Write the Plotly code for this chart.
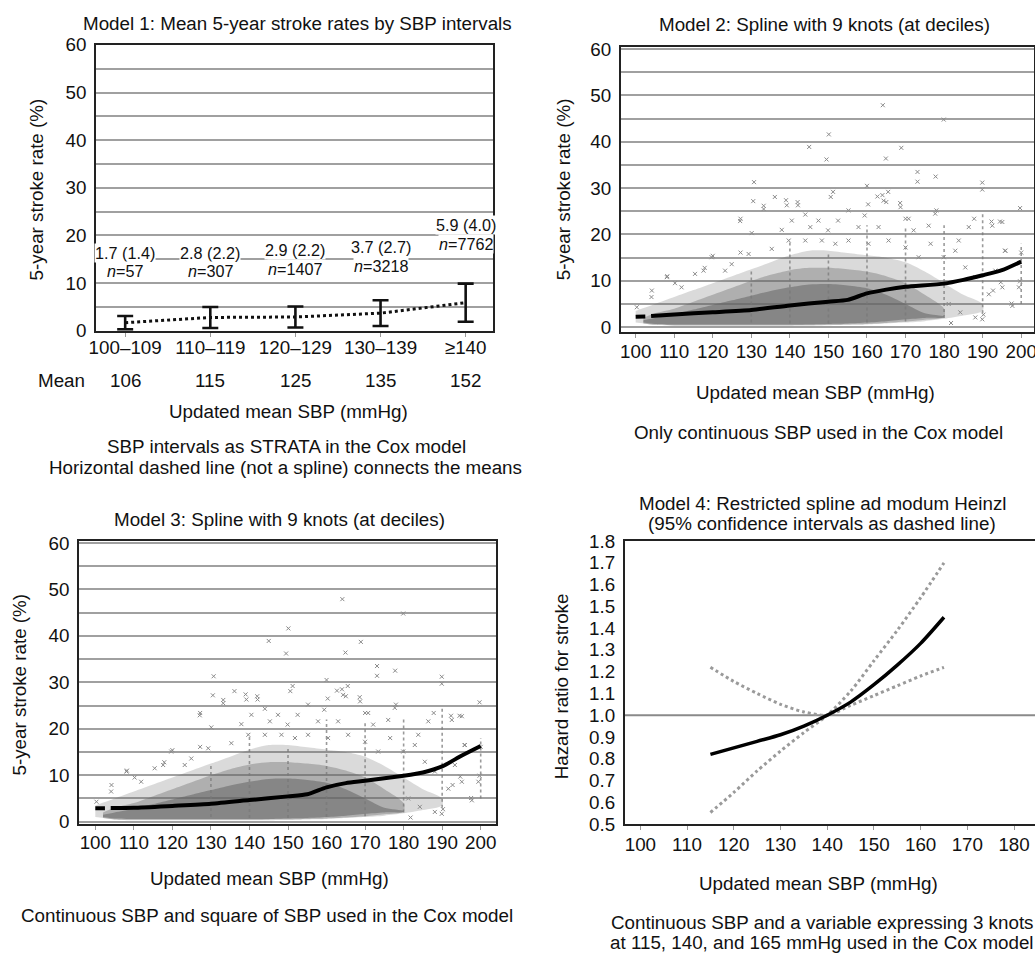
import plotly.graph_objects as go

W, H = 1035, 953            # target picture size
DIV_W, DIV_H = 1050, 975    # plot div size (slightly larger than the visible window)
SX, SY = 0.989, 0.982       # window-to-page scale of the captured area
FONT = "Liberation Sans, Arial, sans-serif"
FS = 18.8

# ---------------- Model 1: interval means ----------------
interval_labels = ["100–109", "110–119", "120–129", "130–139", "≥140"]
interval_means_sbp = [106, 115, 125, 135, 152]
stroke_mean = [1.7, 2.8, 2.9, 3.7, 5.9]
stroke_sd = [1.4, 2.2, 2.2, 2.7, 4.0]
group_n = [57, 307, 1407, 3218, 7762]
label_height = [14.4, 14.4, 15.0, 15.6, 20.2]   # y position of the two-line value labels

# ---------------- Scatter cloud (shared by models 2 and 3) ----------------
halo_x = [100, 105, 110, 115, 120, 125, 130, 135, 140, 145, 150, 155, 160, 165, 170, 175, 180, 185, 190]
halo_hi = [3.5, 5.0, 6.5, 8.0, 9.5, 11.0, 12.5, 14.0, 15.5, 16.5, 16.5, 16.0, 15.5, 15.0, 14.0, 12.0, 9.5, 7.0, 5.0]
halo_lo = [1.0, 0.5, 0.3, 0.3, 0.3, 0.3, 0.3, 0.3, 0.3, 0.3, 0.4, 0.5, 0.6, 0.8, 1.0, 1.3, 1.8, 2.5, 3.5]

cloud_x = [102, 105, 110, 115, 120, 125, 130, 135, 140, 145, 150, 155, 160, 165, 170, 175, 180]
mid_hi = [2.0, 3.0, 4.0, 5.5, 7.0, 8.5, 10.0, 11.3, 12.3, 12.8, 12.8, 12.5, 12.0, 11.0, 9.5, 7.0, 4.0]
mid_lo = [0.8, 0.5, 0.4, 0.4, 0.4, 0.4, 0.4, 0.4, 0.4, 0.5, 0.5, 0.6, 0.7, 0.9, 1.2, 1.6, 2.2]
core_hi = [1.5, 2.0, 2.8, 3.8, 4.8, 5.8, 6.8, 7.8, 8.6, 9.2, 9.3, 9.0, 8.4, 7.0, 5.0, 3.0, 2.3]
core_lo = [1.0, 0.7, 0.6, 0.6, 0.6, 0.6, 0.6, 0.6, 0.6, 0.6, 0.7, 0.8, 1.0, 1.3, 1.7, 2.0, 2.1]

# stacked readings at rounded SBP values
stack_x = [130, 140, 150, 160, 170, 180, 190, 200]
stack_lo = [1.0, 0.8, 0.8, 1.0, 1.2, 2.0, 3.0, 5.0]
stack_hi = [12.0, 19.0, 16.0, 22.0, 21.5, 22.0, 24.5, 18.0]

# individual patients away from the dense cloud
pt_x = [164.1, 179.9, 150.1, 145.0, 168.9, 149.5, 164.9, 173.1, 173.1, 177.8, 130.7, 189.9, 189.9, 160.0,
        130.5, 136.1, 151.2, 150.6, 165.5, 164.0, 162.7, 168.6, 199.7, 133.2, 127.2, 139.0, 142.0, 160.3,
        165.0, 178.0, 170.0, 187.8, 192.3, 194.5, 120.0, 127.2, 117.9, 108.2, 110.2, 104.1, 200.0, 195.8,
        199.7, 197.5, 194.7, 192.7, 181.8, 190.2,
        127.1, 130.1, 133.2, 137.9, 139.2, 140.5, 142.1, 144.0, 145.3, 147.4, 149.9, 152.5, 155.2, 157.8,
        159.4, 163.0, 164.3, 168.7, 170.8, 172.1, 176.0, 177.7, 183.8, 186.4, 192.5, 195.1, 195.9, 193.3,
        188.1, 185.5, 182.9, 179.9, 176.5, 173.4, 181.2, 184.2, 188.1, 189.9, 197.7, 199.4, 195.1, 191.6,
        115.4, 119.7, 108.1, 104.2, 100.3, 111.9, 117.6, 123.2, 124.9, 129.3, 135.3, 139.7, 144.0, 148.3,
        151.8, 155.2, 160.4, 165.6, 170.0]
pt_y = [47.9, 44.8, 41.6, 38.9, 38.7, 36.2, 36.4, 33.5, 31.4, 32.5, 31.3, 31.2, 29.7, 30.5,
        27.2, 28.1, 29.2, 28.1, 29.2, 28.5, 28.2, 26.8, 25.7, 26.2, 23.4, 27.4, 27.0, 26.5,
        27.0, 25.2, 23.4, 23.4, 22.8, 22.8, 15.4, 16.1, 12.8, 11.0, 9.5, 6.5, 16.1, 16.5,
        9.9, 5.1, 9.7, 7.9, 0.9, 2.7,
        22.9, 20.3, 25.5, 21.0, 26.3, 23.0, 26.3, 24.3, 21.6, 23.0, 20.9, 23.0, 25.2, 21.6,
        24.1, 21.6, 27.3, 25.9, 23.4, 20.9, 21.9, 24.5, 18.7, 21.6, 21.9, 22.7, 16.5, 12.2,
        10.8, 12.9, 16.5, 15.1, 18.0, 15.1, 5.0, 3.2, 2.1, 1.7, 4.6, 8.6, 8.6, 7.1,
        11.5, 15.1, 10.8, 7.9, 4.3, 8.6, 12.2, 12.2, 13.6, 15.8, 16.9, 18.7, 18.7, 18.7,
        18.0, 18.7, 18.0, 18.7, 17.2]

# fitted 5-year stroke rates
fit_x = [100, 102.5, None, 104, 110, 120, 130, 140, 150, 155, 160, 165, 170, 180, 185, 190, 195, 200]
fit_model2 = [2.25, 2.3, None, 2.4, 2.75, 3.2, 3.7, 4.7, 5.5, 5.9, 7.3, 8.1, 8.7, 9.4, 10.2, 11.2, 12.3, 14.15]
fit_model3 = [2.9, 2.9, None, 2.95, 3.0, 3.4, 3.85, 4.65, 5.45, 5.9, 7.4, 8.3, 8.8, 9.9, 10.6, 11.9, 14.2, 16.3]

# ---------------- Model 4: restricted spline hazard ratio ----------------
hr_x = [115, 120, 125, 130, 135, 140, 145, 150, 155, 160, 165]
hr = [0.82, 0.85, 0.88, 0.91, 0.95, 1.0, 1.06, 1.14, 1.23, 1.33, 1.45]
ci_upper = [1.22, 1.155, 1.10, 1.05, 1.015, 1.0, 1.11, 1.25, 1.39, 1.54, 1.70]
ci_lower = [0.553, 0.645, 0.744, 0.835, 0.92, 1.0, 1.045, 1.09, 1.135, 1.18, 1.22]


def px_x(p):
    return min(1.0, (p / SX) / DIV_W)


def px_y(p):
    return max(0.0, 1 - (p / SY) / DIV_H)


fig = go.Figure()

# ---- panel 1
fig.add_trace(go.Scatter(x=list(range(5)), y=stroke_mean, mode="lines",
                         line=dict(color="#111", width=3, dash="dot"),
                         xaxis="x", yaxis="y", hoverinfo="skip"))
fig.add_trace(go.Scatter(x=list(range(5)), y=stroke_mean, mode="markers",
                         marker=dict(size=1, color="rgba(0,0,0,0)"),
                         error_y=dict(type="data", array=stroke_sd, color="#111", thickness=2.6, width=8),
                         xaxis="x", yaxis="y"))


def cloud(xa, ya):
    layers = [
        (halo_x, halo_lo, halo_hi, "rgba(100,100,100,0.24)"),
        (cloud_x, mid_lo, mid_hi, "rgba(100,100,100,0.36)"),
        (cloud_x, core_lo, core_hi, "rgba(100,100,100,0.55)"),
    ]
    for xs, lo, hi, col in layers:
        fig.add_trace(go.Scatter(x=xs + xs[::-1], y=hi + lo[::-1], fill="toself",
                                 fillcolor=col, line=dict(width=0, shape="spline", smoothing=0.8),
                                 mode="lines", xaxis=xa, yaxis=ya, hoverinfo="skip"))
    sx, sy = [], []
    for x, lo, hi in zip(stack_x, stack_lo, stack_hi):
        sx += [x, x, None]
        sy += [lo, hi, None]
    fig.add_trace(go.Scatter(x=sx, y=sy, mode="lines",
                             line=dict(color="rgba(120,120,120,0.75)", width=1.6, dash="dot"),
                             xaxis=xa, yaxis=ya, hoverinfo="skip"))
    fig.add_trace(go.Scatter(x=pt_x, y=pt_y, mode="markers",
                             marker=dict(symbol="x-thin", size=4, line=dict(width=1, color="#8a8a8a")),
                             xaxis=xa, yaxis=ya, hoverinfo="skip"))


cloud("x2", "y2")
fig.add_trace(go.Scatter(x=fit_x, y=fit_model2, mode="lines", line=dict(color="black", width=4, shape="spline", smoothing=0.6),
                         xaxis="x2", yaxis="y2", connectgaps=False))
cloud("x3", "y3")
fig.add_trace(go.Scatter(x=fit_x, y=fit_model3, mode="lines", line=dict(color="black", width=4, shape="spline", smoothing=0.6),
                         xaxis="x3", yaxis="y3", connectgaps=False))

# ---- panel 4: the two confidence bands cross at the 140 mmHg reference
k = hr_x.index(140)
band_a = ci_lower[:k] + ci_upper[k:]
band_b = ci_upper[:k] + ci_lower[k:]
for band in (band_a, band_b):
    fig.add_trace(go.Scatter(x=hr_x, y=band, mode="lines",
                             line=dict(color="#9a9a9a", width=3, dash="dot", shape="spline", smoothing=0.8),
                             xaxis="x4", yaxis="y4"))
fig.add_trace(go.Scatter(x=hr_x, y=hr, mode="lines",
                         line=dict(color="black", width=3.5, shape="spline", smoothing=0.8),
                         xaxis="x4", yaxis="y4"))

frame = dict(showline=True, mirror=True, linecolor="#222", linewidth=2, zeroline=False,
             tickfont=dict(family=FONT, size=FS, color="#111"))
grid_y = dict(showgrid=True, gridcolor="#a0a0a0", gridwidth=1.5, dtick=10, tick0=0,
              minor=dict(dtick=5, tick0=0, showgrid=True, gridcolor="#a0a0a0", gridwidth=1.5),
              ticks="", ticklabelstandoff=4)
xt = dict(showgrid=False, ticks="outside", ticklen=4, tickcolor="#999", tickwidth=1)

layout = dict(
    autosize=True, margin=dict(l=0, r=0, t=0, b=0),
    paper_bgcolor="white", plot_bgcolor="white", showlegend=False,
    font=dict(family=FONT, size=FS, color="#111"),
    xaxis=dict(domain=[px_x(97), px_x(493)], range=[-0.341, 4.318], anchor="y",
               tickvals=list(range(5)), ticktext=interval_labels, ticklabelstandoff=-5, **xt, **frame),
    yaxis=dict(domain=[px_y(330), px_y(43)], range=[0, 60], anchor="x", **grid_y, **frame),
    xaxis2=dict(domain=[px_x(621), px_x(1033)], range=[96.18, 203.2], anchor="y2",
                tickvals=list(range(100, 201, 10)), ticklabelstandoff=-2, **xt, **frame),
    yaxis2=dict(domain=[px_y(331), px_y(45)], range=[-1, 60.5], anchor="x2", **grid_y, **frame),
    xaxis3=dict(domain=[px_x(80), px_x(496)], range=[95.8, 203.9], anchor="y3",
                tickvals=list(range(100, 201, 10)), ticklabelstandoff=-4, **xt, **frame),
    yaxis3=dict(domain=[px_y(825), px_y(541)], range=[-0.5, 60.4], anchor="x3", **grid_y, **frame),
    xaxis4=dict(domain=[px_x(625), px_x(1035)], range=[96.7, 184.6], anchor="y4",
                tickvals=list(range(100, 181, 10)), ticklabelstandoff=-2, **xt, **frame),
    yaxis4=dict(domain=[px_y(825), px_y(541)], range=[0.5, 1.8], anchor="x4",
                tickvals=[round(0.5 + 0.1 * i, 1) for i in range(14)], tickformat=".1f",
                showgrid=False, ticks="", ticklabelstandoff=4, **frame),
)
fig.update_layout(**layout)

# reference line at HR = 1
fig.add_shape(type="line", xref="x4 domain", yref="y4", x0=0, x1=1, y0=1, y1=1,
              line=dict(color="#8a8a8a", width=2), layer="below")

ann = []


def text(x, y, s, size=FS, **kw):
    ann.append(dict(x=px_x(x), y=px_y(y), xref="paper", yref="paper", text=s, showarrow=False,
                    font=dict(family=FONT, size=size, color="#111"), xanchor="center", yanchor="middle", **kw))


# titles
text(298, 22, "Model 1: Mean 5-year stroke rates by SBP intervals")
text(824, 23, "Model 2: Spline with 9 knots (at deciles)")
text(280, 519, "Model 3: Spline with 9 knots (at deciles)")
text(822, 503, "Model 4: Restricted spline ad modum Heinzl")
text(822, 523, "(95% confidence intervals as dashed line)")

# y-axis titles
text(37, 188, "5-year stroke rate (%)", textangle=-90)
text(563, 188, "5-year stroke rate (%)", textangle=-90)
text(21, 685, "5-year stroke rate (%)", textangle=-90)
text(562, 687, "Hazard ratio for stroke", textangle=-90)

# x-axis titles and captions
text(289, 411, "Updated mean SBP (mmHg)")
text(287, 446, "SBP intervals as STRATA in the Cox model")
text(286, 467, "Horizontal dashed line (not a spline) connects the means")
text(815, 392, "Updated mean SBP (mmHg)")
text(818, 432, "Only continuous SBP used in the Cox model")
text(270, 880, "Updated mean SBP (mmHg)")
text(268, 917, "Continuous SBP and square of SBP used in the Cox model")
text(818, 885, "Updated mean SBP (mmHg)")
text(822, 924, "Continuous SBP and a variable expressing 3 knots")
text(822, 944, "at 115, 140, and 165 mmHg used in the Cox model")

# mean SBP row under the interval labels
text(62, 380, "Mean")
for i, m in enumerate(interval_means_sbp):
    ann.append(dict(x=i, y=px_y(380), xref="x", yref="paper", text=str(m), showarrow=False,
                    font=dict(family=FONT, size=FS, color="#111"), xanchor="center", yanchor="middle"))

# value labels above each interval
for i, (m, s, n, h) in enumerate(zip(stroke_mean, stroke_sd, group_n, label_height)):
    for dy, s_txt in ((1.95, f"{m:.1f} ({s:.1f})"), (-1.95, f"<i>n</i>={n}")):
        ann.append(dict(x=i, y=h + dy, xref="x", yref="y", text=s_txt, showarrow=False,
                        font=dict(family=FONT, size=16.2, color="#111"), bgcolor="white",
                        borderpad=0, xanchor="center", yanchor="middle"))

fig.update_layout(annotations=ann)
# the negative margin cancels the page's default body margin so the chart starts at the window origin
fig.write_html("out.html", default_width=f"{DIV_W}px", default_height=f"{DIV_H}px; margin:-8px",
               config={"responsive": False})
